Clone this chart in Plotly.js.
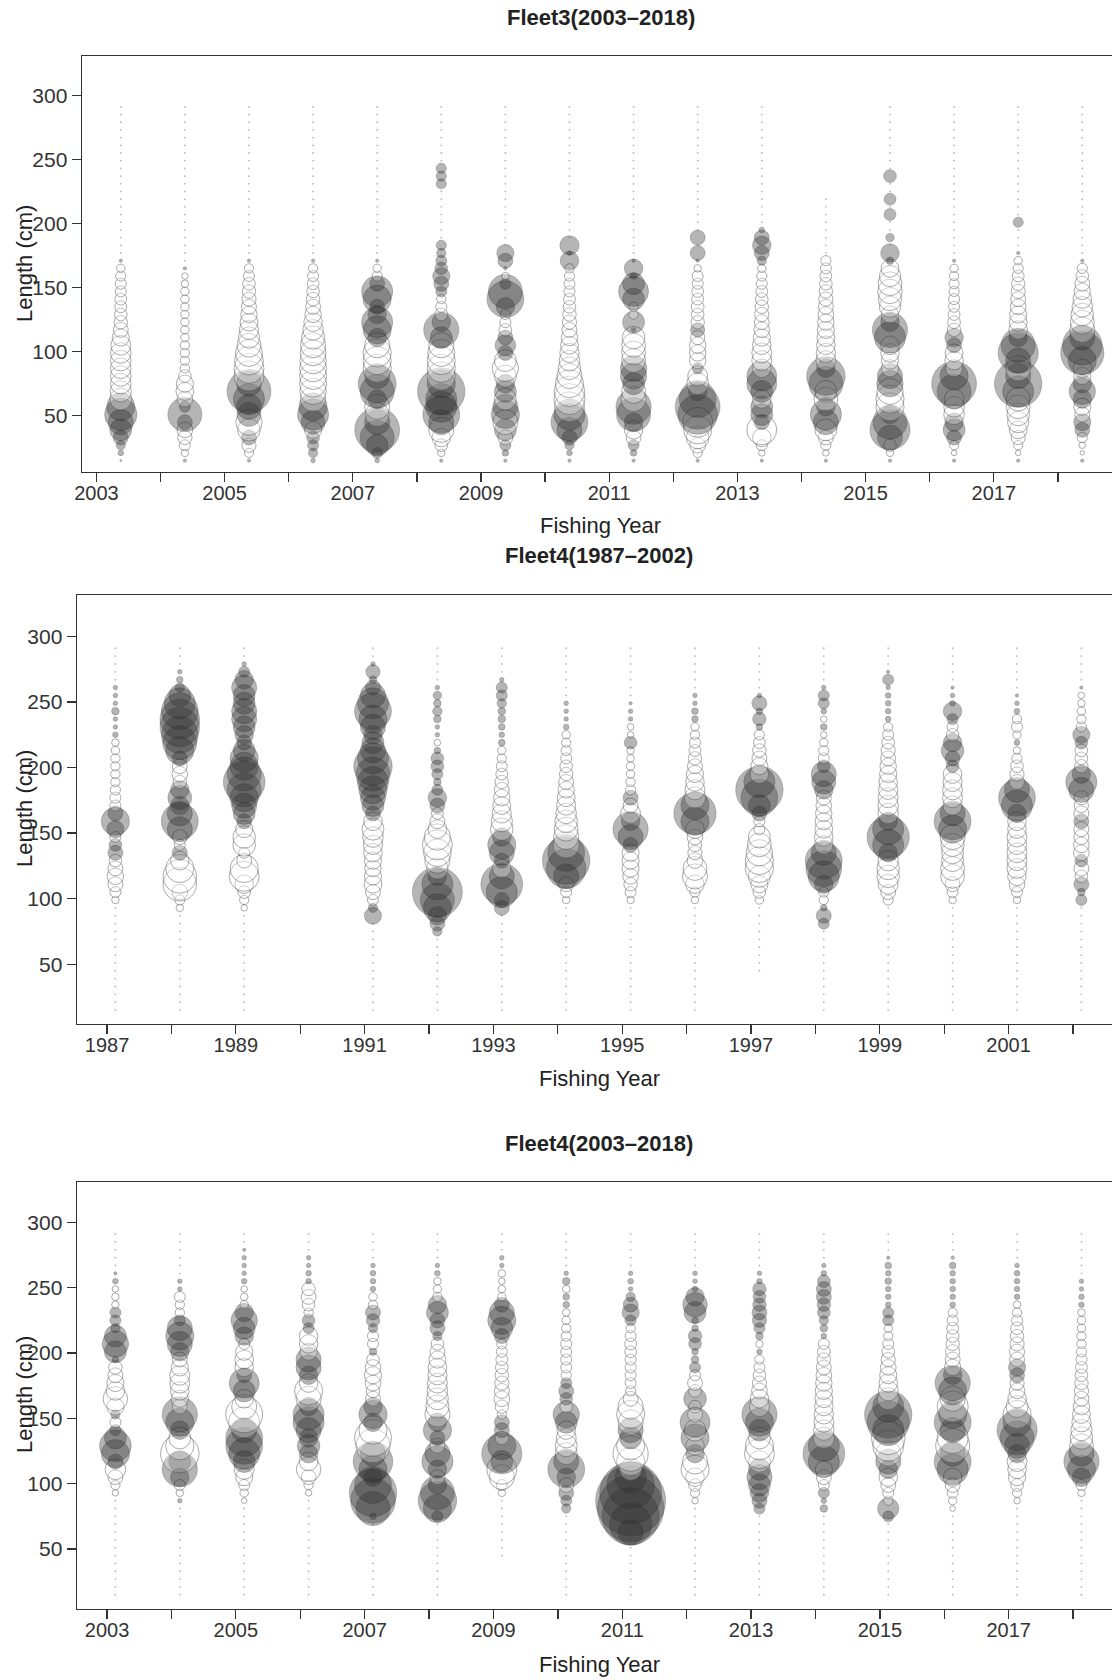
<!DOCTYPE html>
<html>
<head>
<meta charset="utf-8">
<script src="https://cdn.plot.ly/plotly-3.0.1.min.js"></script>
<style>html,body{margin:0;padding:0;overflow:hidden;background:#fff}</style>
</head>
<body>
<div id="chart"></div>
<script>
// Length bins (cm)
const lengthBins = [15,21,27,33,39,45,51,57,63,69,75,81,87,93,99,105,111,117,123,129,135,141,147,153,159,165,171,177,183,189,195,201,207,213,219,225,231,237,243,249,255,261,267,273,279,285,291];

// Fleet3 2003-2018 : residuals per year (rows) by length bin (columns)
const fleet3Years = [2003,2004,2005,2006,2007,2008,2009,2010,2011,2012,2013,2014,2015,2016,2017,2018];
const fleet3TickYears = [2003,2004,2005,2006,2007,2008,2009,2010,2011,2012,2013,2014,2015,2016,2017,2018];
const fleet3TickText = ['2003','','2005','','2007','','2009','','2011','','2013','','2015','','2017',''];
const fleet3Resid = [
[0.1,0.4,0.8,1.5,2.5,3.0,4.2,3.5,-2.5,-2.4, -2.3,-2.3,-2.3,-2.3,-2.3,-2.2,-1.8,-1.5,-1.3,-1.2, -1.1,-1.1,-1.0,-1.0,-0.9,-0.7,0.2,0,0,0, 0,0,0,0,0,0,0,0,0,0, 0,0,0,0,0,0,0],
[0.2,-0.6,-1.0,-1.4,-1.6,1.5,4.5,1.0,-1.6,-1.9, -1.8,-1.2,-0.8,-0.8,-0.8,-0.8,-0.7,-0.7,-0.7,-0.7, -0.7,-0.7,-0.7,-0.6,-0.5,0.2,0,0,0,0, 0,0,0,0,0,0,0,0,0,0, 0,0,0,0,0,0,0],
[0.2,-0.8,-1.4,1.5,-2.6,-3.2,2.8,3.0,4.0,6.3, 3.0,-3.8,-3.8,-3.6,-3.3,-2.8,-2.4,-2.1,-1.9,-1.7, -1.5,-1.4,-1.3,-1.2,-1.0,-0.8,0.2,0,0,0, 0,0,0,0,0,0,0,0,0,0, 0,0,0,0,0,0,0],
[0.3,0.8,1.0,1.2,-1.8,2.8,4.0,3.5,-3.0,-3.2, -3.3,-3.3,-3.3,-3.2,-3.1,-3.0,-2.7,-2.3,-2.0,-1.7, -1.5,-1.3,-1.2,-1.1,-1.0,-0.8,0.2,0,0,0, 0,0,0,0,0,0,0,0,0,0, 0,0,0,0,0,0,0],
[0.3,1.0,2.5,4.5,6.5,3.0,-2.8,-3.0,2.0,4.5, 5.2,3.0,-3.5,-3.5,-3.5,-3.0,2.0,3.5,4.0,2.0, 1.5,3.5,4.0,1.5,-0.9,-0.7,0.2,0,0,0, 0,0,0,0,0,0,0,0,0,0, 0,0,0,0,0,0,0],
[0.2,-0.6,-1.2,-2.0,-3.0,3.0,5.0,4.0,4.0,7.0, 3.5,-3.5,-3.5,-3.5,-3.3,-3.0,2.5,4.7,2.0,-1.2, -1.0,-0.8,1.0,1.5,1.8,1.2,1.0,0.8,0.9,0, 0,0,0,0,0,0,0.9,0.9,0.9,0, 0,0,0,0,0,0,0],
[0.2,0.5,1.0,-1.5,2.5,-3.0,3.5,3.0,-2.5,2.5, 2.0,-2.5,-3.2,-2.5,1.5,2.3,1.5,-1.2,-1.0,-0.9, 2.0,5.0,4.5,1.0,-0.6,0.2,1.5,1.8,0,0, 0,0,0,0,0,0,0,0,0,0, 0,0,0,0,0,0,0],
[0.2,0.4,0.8,1.5,3.0,5.0,4.0,-3.8,-4.0,-3.9, -3.5,-3.0,-2.6,-2.3,-2.1,-1.9,-1.7,-1.5,-1.4,-1.3, -1.2,-1.1,-1.0,-1.0,-0.9,-0.8,2.0,0.3,2.1,0, 0,0,0,0,0,0,0,0,0,0, 0,0,0,0,0,0,0],
[0.2,0.5,1.0,-1.5,-2.0,2.0,4.5,4.7,-3.0,-2.8, 2.5,3.2,3.2,-2.8,-2.8,-2.8,-2.6,0.3,2.5,-0.8, -0.8,2.5,3.8,2.5,0.5,2.0,0.2,0,0,0, 0,0,0,0,0,0,0,0,0,0, 0,0,0,0,0,0,0],
[0.2,-0.8,-1.6,-2.6,-3.5,-3.8,5.5,6.5,5.0,2.0, -2.5,-2.2,1.0,-1.7,-1.7,-1.7,-1.4,1.4,-1.3,-1.2, -1.2,-1.1,-1.1,-1.0,-1.0,-0.6,0.2,1.5,0,1.5, 0,0,0,0,0,0,0,0,0,0, 0,0,0,0,0,0,0],
[0.2,-0.5,-1.0,-2.0,-3.8,1.5,2.5,2.5,-2.0,2.5, 3.8,3.8,-2.0,-2.2,-2.2,-2.0,-1.8,-1.6,-1.5,-1.4, -1.3,-1.2,-1.1,-1.0,-0.9,-0.7,0.8,1.5,2.0,1.5, 0.4,0,0,0,0,0,0,0,0,0, 0,0,0,0,0,0,0],
[0.2,-0.5,-0.9,-1.5,-2.5,3.0,4.0,2.0,-2.8,-2.5, 4.5,5.3,2.0,-2.2,-2.1,-2.0,-1.9,-1.8,-1.7,-1.6, -1.5,-1.4,-1.3,-1.2,-1.1,-1.0,-0.9,0,0,0, 0,0,0,0,0,null,null,null,null,null, null,null,null,null,null,null,null],
[0.2,-0.6,-1.2,3.0,5.6,4.5,2.0,-3.5,-3.5,-3.2, 3.2,3.0,-1.8,-1.8,-2.0,-2.0,4.0,4.7,2.0,-1.8, -2.4,-2.7,-2.9,-2.8,-2.4,-1.9,0.6,2.0,0,0.7, 0,0,1.1,0,1.1,0,0,1.2,0,0, 0,0,0,0,0,0,0],
[0.2,-0.4,-0.8,1.5,2.5,2.0,-2.3,-2.3,-2.2,4.5, 6.5,3.5,-1.8,-2.0,-1.9,1.5,2.0,-1.3,-1.2,-1.1, -1.0,-1.0,-0.9,-0.9,-0.8,-0.7,0.2,0,0,0, 0,0,0,0,0,0,0,0,0,0, 0,0,0,0,0,0,0],
[0.2,-0.4,-0.8,-1.4,-1.9,-2.4,-2.6,-2.8,-2.8,4.0, 7.0,3.0,-3.0,3.0,5.6,4.5,2.0,-2.0,-1.9,-1.8, -1.6,-1.5,-1.4,-1.3,-1.1,-0.9,-0.7,0.2,0,0, 0,0.9,0,0,0,0,0,0,0,0, 0,0,0,0,0,0,0],
[0.2,-0.3,-0.5,-0.9,1.5,1.8,-1.5,-1.8,2.0,3.2, 2.0,-1.8,-2.0,3.5,6.2,5.5,3.0,-3.0,-2.8,-2.6, -2.3,-2.0,-1.7,-1.5,-1.2,-0.9,0.2,0,0,0, 0,0,0,0,0,0,0,0,0,0, 0,0,0,0,0,0,0]
];

// Fleet4 1987-2002
const fleet4aYears = [1987,1988,1989,1991,1992,1993,1994,1995,1996,1997,1998,1999,2000,2001,2002];
const fleet4aTickYears = [1987,1988,1989,1990,1991,1992,1993,1994,1995,1996,1997,1998,1999,2000,2001,2002];
const fleet4aTickText = ['1987','','1989','','1991','','1993','','1995','','1997','','1999','','2001',''];
const fleet4aResid = [
[0,0,0,0,0,0,0,0,0,0, 0,0,0,0,-0.6,-1.0,-1.5,-1.7,-1.5,-1.2, 1.5,1.2,-1.0,1.8,3.5,1.5,-1.0,-1.0,-0.9,-0.8, -0.8,-0.8,-0.8,-0.7,-0.6,0.4,0.3,0.3,0.6,0.3, 0.3,0.3,0,0,0,0,0],
[0,0,0,0,0,0,0,0,0,0, 0,0,0,-0.6,-0.9,-1.6,-4.4,-4.4,-3.5,-2.0, 1.5,-1.0,-1.5,3.0,5.0,3.0,2.0,2.8,2.0,-1.3, -1.6,-1.5,1.5,3.5,4.5,5.0,5.5,5.5,5.0,4.0, 2.5,0.8,0.5,0.3,0,0,0],
[0,0,0,0,0,0,0,0,0,0, 0,0,0,-0.5,-0.8,-1.2,-2.0,-3.8,-3.5,-1.5, -1.0,-2.6,-2.6,-1.8,1.5,2.5,3.0,3.5,4.5,5.9, 4.5,3.5,3.5,2.5,1.5,2.0,2.5,3.0,3.0,2.5, 2.5,3.0,2.0,1.0,0.3,0,0],
[0,0,0,0,0,0,0,0,0,0, 0,0,1.8,0.8,-1.0,-1.5,-1.9,-1.8,-1.7,-1.8, -2.0,-2.1,-2.3,-2.5,-2.0,1.5,2.5,3.0,3.5,4.0, 4.5,5.3,4.0,3.0,2.5,2.0,3.0,3.5,5.0,4.0, 3.0,1.5,0.6,1.4,0.3,0,0],
[0,0,0,0,0,0,0,0,0,0, 0.8,1.5,2.0,3.5,4.5,7.5,4.0,2.0,-2.4,-3.0, -3.4,-3.8,-3.2,-2.0,-1.5,-1.1,1.5,2.0,1.0,0.6, 1.0,1.2,1.2,0.5,-0.5,0.3,0.3,0.6,0.8,0.6, 0.7,0.3,0,0,0,0,0],
[0,0,0,0,0,0,0,0,0,0, 0,0,0,1.5,1.5,4.0,5.9,3.0,-2.0,1.5, 3.0,3.5,2.0,-2.6,-2.4,-2.1,-1.9,-1.7,-1.5,-1.3, -1.1,-1.0,-0.8,-0.7,0.5,0.4,0.5,0.6,0.6,0.8, 1.0,1.0,0.3,0,0,0,0],
[0,0,0,0,0,0,0,0,0,0, 0,0,0,0,-0.6,-1.0,-1.5,3.0,5.5,7.0, 5.0,-3.2,-3.0,-2.8,-2.6,-2.3,-2.1,-1.9,-1.7,-1.5, -1.3,-1.2,-1.0,-0.9,-0.8,-0.7,0.4,0.3,0.3,0.3, 0,0,0,0,0,0,0],
[0,0,0,0,0,0,0,0,0,0, 0,0,0,0,-0.6,-1.0,-1.3,-1.6,-1.8,-1.8, -1.8,1.5,3.0,4.7,2.0,-2.2,-1.5,1.5,-0.9,-0.8, -0.7,-0.7,-0.6,-0.6,1.2,-0.5,-0.5,0.3,0.3,0.2, 0,0,0,0,0,0,0],
[0,0,0,0,0,0,0,0,0,0, 0,0,0,0,-0.6,-0.9,-2.0,-3.0,-2.8,-1.6, -1.4,-1.3,-1.6,-2.0,3.5,6.0,3.5,-2.4,-2.2,-2.0, -1.8,-1.5,-1.3,-1.1,-1.0,-0.8,-0.7,0.5,0.5,0.3, 0.3,0,0,0,0,0,0],
[null,null,null,null,null,0,0,0,0,0, 0,0,0,0,-0.7,-1.2,-1.8,-2.5,-3.5,-3.5, -3.2,-2.8,-2.5,-1.0,-1.0,1.5,2.5,5.0,7.0,4.0, -2.0,-1.8,-1.5,-1.3,-1.1,-0.9,0.5,1.3,0.5,1.5, 0.3,0,0,0,0,0,0],
[0,0,0,0,0,0,0,0,0,0, 0,1.0,1.5,0.5,-0.8,-0.9,2.0,4.0,4.8,5.0, 3.0,-2.0,-2.0,-1.9,-1.8,-1.7,-1.6,-1.5,2.0,2.8, 3.0,1.2,-1.0,-0.9,-0.7,-0.5,0.5,-0.5,0.4,1.0, 1.0,0.3,0,0,0,0,0],
[0,0,0,0,0,0,0,0,0,0, 0,0,0,0,-0.9,-1.5,-2.2,-2.6,-2.6,-2.3, 2.0,4.0,6.0,4.0,2.0,-2.3,-2.3,-2.2,-2.1,-2.0, -1.8,-1.7,-1.5,-1.4,-1.2,-1.0,-0.8,0.4,0.4,0.4, 0.4,0.3,1.0,0.2,0,0,0],
[0,0,0,0,0,0,0,0,0,0, 0,0,0,0,-0.6,-1.0,-1.5,-2.8,-2.8,-2.5, -2.5,-2.7,-3.0,3.5,5.0,3.0,-2.1,-2.2,-2.2,-2.1, -2.0,1.2,1.5,2.6,2.0,-1.2,-1.0,1.0,2.0,0.4, 0.3,0.2,0,0,0,0,0],
[0,0,0,0,0,0,0,0,0,0, 0,0,0,0,-0.6,-1.0,-1.6,-2.0,-2.2,-2.2, -2.2,-2.1,-2.2,-2.0,-2.0,2.0,4.0,5.0,3.0,-1.5, -1.4,-1.2,-0.9,-0.6,0.4,-0.7,-1.0,-0.8,0.4,0.3, 0.2,0,0,0,0,0,0],
[0,0,0,0,0,0,0,0,0,0, 0,0,0,0,1.0,0.6,1.5,-1.2,-1.5,1.2, -1.6,-1.6,-1.5,-1.5,1.5,-1.5,-1.4,-1.4,3.0,4.0, 2.0,-1.3,-1.2,-1.2,1.2,1.8,-0.9,-0.8,-0.7,-0.6, -0.5,0.2,0,0,0,0,0]
];

// Fleet4 2003-2018
const fleet4bYears = [2003,2004,2005,2006,2007,2008,2009,2010,2011,2012,2013,2014,2015,2016,2017,2018];
const fleet4bTickYears = [2003,2004,2005,2006,2007,2008,2009,2010,2011,2012,2013,2014,2015,2016,2017,2018];
const fleet4bTickText = ['2003','','2005','','2007','','2009','','2011','','2013','','2015','','2017',''];
const fleet4bResid = [
[0,0,0,0,0,0,0,0,0,0, 0,0,0,-0.5,-0.8,-1.5,-2.3,1.5,3.5,4.1, 2.5,1.0,-1.0,0.8,-1.8,-2.9,-2.0,-1.8,-1.5,-1.3, 0.5,2.5,3.2,2.5,0.8,1.0,1.0,-0.6,-0.6,-0.5, 0.4,0.2,0,0,0,0,0],
[0,0,0,0,0,0,0,0,0,0, 0,0,0.3,-0.6,-1.0,2.0,4.7,2.5,-5.3,-3.5, -2.5,2.0,3.5,4.7,-1.5,-1.8,-2.0,-2.2,-2.2,-1.8, -1.5,2.0,3.0,3.5,3.0,1.0,-0.8,-0.8,-1.0,0.3, 0.3,0,0,0,0,0,0],
[0,0,0,0,0,0,0,0,0,0, 0,0,-0.4,-0.7,-1.0,-1.8,-2.2,2.5,4.0,5.0, 5.0,3.0,-4.0,-5.0,-3.0,-2.0,2.5,3.8,1.5,-2.0, -2.0,-1.8,-1.0,2.0,2.5,3.2,2.0,-0.7,-0.6,-0.5, 0.4,0.3,0.3,0.3,0.2,0,0],
[0,0,0,0,0,0,0,0,0,0, 0,0,0,-0.5,-0.8,-1.5,-2.9,-2.0,2.0,2.6, 2.0,3.0,4.0,4.0,2.0,-3.0,-3.5,-2.0,2.0,3.0, 3.0,-1.8,-2.0,-2.0,1.0,1.2,-0.8,-1.2,-1.5,-1.3, 0.4,0.4,0.3,0.3,0,0,0],
[0,0,0,0,0,0,0,0,0,0, 0.5,4.5,6.5,7.0,5.0,2.0,3.5,5.5,3.0,-4.5, -5.0,-3.5,2.0,3.5,2.0,-1.5,-1.3,-1.6,-1.8,-1.6, -1.2,0.6,-1.0,-1.0,0.8,1.3,1.5,-0.8,-0.7,0.4, 0.4,0.4,0.3,0,0,0,0],
[0,0,0,0,0,0,0,0,0,0, 1.0,3.5,5.3,4.5,2.0,-1.5,2.0,4.0,3.0,-1.5, 1.5,3.5,2.0,-3.0,-2.7,-2.5,-2.3,-2.2,-2.1,-2.0, -1.8,-1.5,-1.2,0.8,1.5,1.5,2.5,2.0,-0.8,-0.7, -0.6,0.4,0.3,0,0,0,0],
[null,null,null,null,null,0,0,0,0,0, 0,0,0,-0.6,-1.0,-3.0,-3.8,2.5,5.6,3.5, -1.3,1.5,1.5,-0.8,-1.3,-1.6,-1.5,-1.4,-1.3,-1.2, -1.1,-1.0,-0.9,1.5,2.5,3.5,3.0,1.5,-0.7,-0.6, -0.5,-0.6,0.3,0.3,0,0,0],
[0,0,0,0,0,0,0,0,0,0, 0,0.8,1.0,1.5,-1.5,2.0,5.0,3.0,-2.5,-2.5, -2.2,-2.0,2.5,3.2,-1.2,1.2,1.5,1.0,-0.9,-1.0, -1.0,-1.0,-1.0,-0.9,-0.8,-0.7,-0.6,0.5,0.5,-0.6, 0.6,0.3,0,0,0,0,0],
[0,0,0,0,0,0,0,0,3.0,6.0, 9.0,11.0,11.8,10.0,7.0,4.0,-2.5,-3.5,-4.7,-3.5, 2.5,3.0,-3.0,-3.5,-3.0,-1.5,-0.9,-1.0,-1.0,-1.0, -1.0,-1.1,-1.1,-1.0,-0.8,1.0,1.8,1.5,0.8,0.3, 0.4,0.3,0,0,0,0,0],
[0,0,0,0,0,0,0,0,0,0, 0,0,-0.5,-0.8,-1.2,-2.0,-3.5,-3.0,2.0,-2.0, 3.5,-2.5,3.8,-1.5,-1.2,2.6,-1.2,-1.5,-1.0,1.0, 0.6,0.5,1.2,1.3,0.5,0.5,2.5,2.9,2.0,0.4, 0.3,0.3,0,0,0,0,0],
[0,0,0,0,0,0,0,0,0,0, 0,1.0,1.5,2.0,2.5,3.0,2.5,-2.5,-3.8,-3.5, -2.5,2.5,3.5,4.7,-2.2,-2.0,-1.6,-1.4,-1.2,-1.0, -0.8,0.4,-0.6,0.6,1.0,1.4,1.5,1.3,1.2,1.3, 0.4,0.3,0,0,0,0,0],
[0,0,0,0,0,0,0,0,0,0, 0,0.6,0.4,1.0,-1.0,-1.5,-1.8,4.0,5.9,4.0, -2.4,-2.3,-2.2,-2.1,-2.0,-1.9,-1.8,-1.7,-1.6,-1.5, -1.3,-1.2,-1.0,0.4,0.6,0.8,1.2,1.3,1.5,1.5, 1.2,0.4,0.3,0,0,0,0],
[0,0,0,0,0,0,0,0,0,0, 1.0,2.4,-0.8,-1.0,-1.5,-2.0,2.0,3.0,-3.0,-4.0, -4.4,4.0,6.0,7.0,4.0,-2.5,-2.2,-2.0,-1.8,-1.6, -1.4,-1.2,-1.0,-0.8,-0.7,1.0,1.0,0.4,0.4,0.4, 0.5,0.4,0.5,0.2,0,0,0],
[0,0,0,0,0,0,0,0,0,0, 0,-0.4,-0.7,-1.0,-1.5,-2.0,4.0,5.0,3.0,-4.5, -4.0,3.0,5.0,3.5,-4.0,-3.0,3.5,4.7,2.0,-1.7, -1.5,-1.4,-1.3,-1.2,-1.1,-1.0,-0.8,0.4,0.4,0.4, 0.4,0.4,0.5,0.2,0,0,0],
[0,0,0,0,0,0,0,0,0,0, 0,0,-0.5,-0.8,-1.2,-1.8,-2.0,-2.2,2.0,3.0, 4.5,5.6,3.5,-3.5,-2.5,-2.0,-1.6,-1.4,1.5,1.8, -1.5,-1.5,-1.4,-1.3,-1.2,-1.0,-0.8,-0.6,0.4,0.4, 0.4,0.4,0.3,0,0,0,0],
[0,0,0,0,0,0,0,0,0,0, 0,0,0,-0.6,-1.0,2.0,3.5,4.7,3.0,-2.8, -2.6,-2.4,-2.1,-1.9,-1.7,-1.5,-1.4,-1.3,-1.2,-1.1, -1.0,-0.9,-0.8,-0.8,-0.7,-0.7,-0.6,0.4,0.4,0.3, 0.3,0,0,0,0,0,0]
];

// ---------- drawing ----------
const W = 1116, H = 1680;
const FONT = 'Liberation Sans, Arial, sans-serif';

function bubbleSize(a) { return Math.max(1.8, 11 * Math.pow(a, 0.75)); }

function bubbleTrace(years, resid, offset, xa, ya) {
  const x = [], y = [], size = [], fill = [], line = [], lw = [];
  years.forEach((yr, i) => {
    resid[i].forEach((r, j) => {
      if (r === null || r === undefined) return;
      x.push(yr + offset);
      y.push(lengthBins[j]);
      const a = Math.abs(r);
      if (a < 0.05) { size.push(1.8); fill.push('rgba(120,120,120,0.75)'); line.push('rgba(0,0,0,0)'); lw.push(0); }
      else if (r > 0) { size.push(bubbleSize(a)); fill.push('rgba(45,45,45,0.5)'); line.push('rgba(45,45,45,0.5)'); lw.push(0.8); }
      else { size.push(bubbleSize(a)); fill.push('rgba(255,255,255,0.4)'); line.push('rgba(85,85,85,0.7)'); lw.push(1); }
    });
  });
  return { type: 'scatter', mode: 'markers', x, y, xaxis: xa, yaxis: ya, hoverinfo: 'skip',
    marker: { size, sizemode: 'diameter', color: fill, line: { color: line, width: lw } } };
}

function xAxis(domL, range, tv, tt, anchor) {
  return { domain: [domL / W, 1], range, anchor, tickvals: tv, ticktext: tt, ticks: 'outside', ticklen: 9,
    tickwidth: 1.3, tickcolor: '#333', showline: true, linecolor: '#333', linewidth: 1.4, mirror: true,
    showgrid: false, zeroline: false, ticklabelstandoff: -6,
    tickfont: { family: FONT, size: 20, color: '#333' }, fixedrange: true };
}
function yAxis(top, bottom, range, anchor) {
  return { domain: [1 - bottom / H, 1 - top / H], range, anchor, tickvals: [50,100,150,200,250,300],
    ticktext: ['50','100','150','200','250','300'], ticks: 'outside', ticklen: 9, tickwidth: 1.3, tickcolor: '#333',
    showline: true, linecolor: '#333', linewidth: 1.4, mirror: true, showgrid: false, zeroline: false,
    tickfont: { family: FONT, size: 21, color: '#333' }, fixedrange: true };
}

const traces = [
  bubbleTrace(fleet3Years, fleet3Resid, 0.38, 'x', 'y'),
  bubbleTrace(fleet4aYears, fleet4aResid, 0.13, 'x2', 'y2'),
  bubbleTrace(fleet4bYears, fleet4bResid, 0.13, 'x3', 'y3')
];

function ann(text, px, py, size, extra) {
  return Object.assign({ text, x: px / W, y: 1 - py / H, xref: 'paper', yref: 'paper', showarrow: false,
    xanchor: 'center', yanchor: 'middle', font: { family: FONT, size, color: '#222' } }, extra || {});
}

const layout = {
  width: W, height: H, margin: { l: 0, r: 0, t: 0, b: 0 }, showlegend: false,
  paper_bgcolor: '#fff', plot_bgcolor: '#fff',
  xaxis: xAxis(82, [2002.775, 2018.906], fleet3TickYears, fleet3TickText, 'y'),
  yaxis: yAxis(56, 472, [6.1, 330.7], 'x'),
  xaxis2: xAxis(77, [1986.534, 2002.668], fleet4aTickYears, fleet4aTickText, 'y2'),
  yaxis2: yAxis(595, 1024, [4.4, 331.6], 'x2'),
  xaxis3: xAxis(77, [2002.534, 2018.666], fleet4bTickYears, fleet4bTickText, 'y3'),
  yaxis3: yAxis(1182, 1609, [4.1, 330.9], 'x3'),
  annotations: [
    ann('<b>Fleet3(2003–2018)</b>', 601, 18, 22),
    ann('Fishing Year', 600, 525, 22),
    ann('Length (cm)', 24, 264, 22, { textangle: -90 }),
    ann('<b>Fleet4(1987–2002)</b>', 599, 556, 22),
    ann('Fishing Year', 599, 1078, 22),
    ann('Length (cm)', 24, 809, 22, { textangle: -90 }),
    ann('<b>Fleet4(2003–2018)</b>', 599, 1143, 22),
    ann('Fishing Year', 599, 1664, 22),
    ann('Length (cm)', 24, 1395, 22, { textangle: -90 })
  ]
};

Plotly.newPlot('chart', traces, layout, { staticPlot: true, displayModeBar: false });
</script>
</body>
</html>
